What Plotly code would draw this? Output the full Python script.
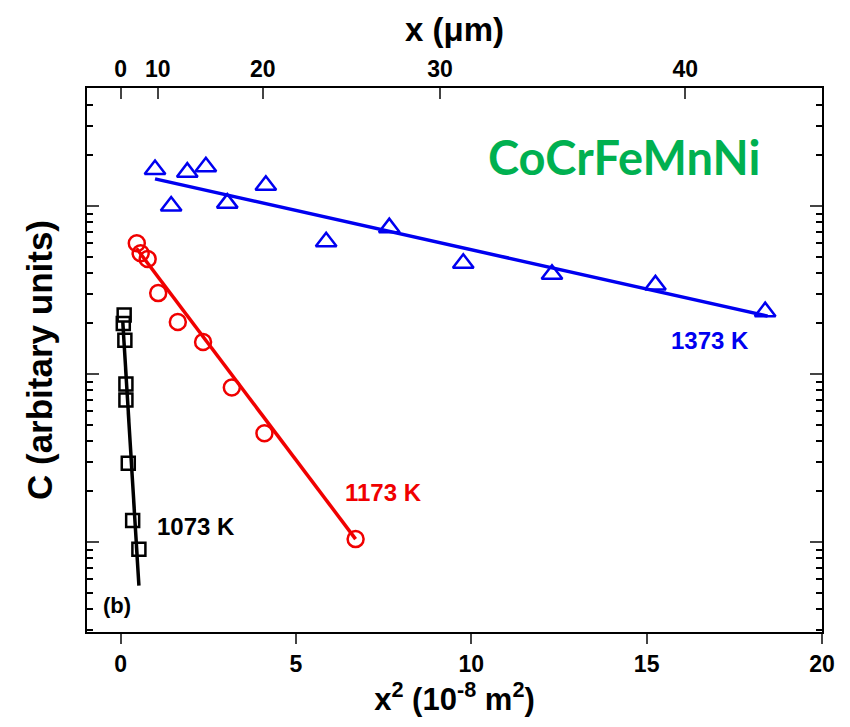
import numpy as np
import plotly.graph_objects as go

# ---- data (x^2 in 1e-8 m^2, C in arbitrary units, log scale) ----
x2_1373 = [0.98, 1.44, 1.90, 2.43, 3.04, 4.14, 5.86, 7.66, 9.77, 12.30, 15.25, 18.38]
c_1373 = [1.65, 1.00, 1.59, 1.71, 1.04, 1.33, 0.613, 0.743, 0.456, 0.392, 0.339, 0.235]
fit_x_1373 = [0.98, 18.45]
fit_c_1373 = [1.45, 0.221]

x2_1173 = [0.46, 0.57, 0.77, 1.07, 1.63, 2.35, 3.17, 4.10, 6.70]
c_1173 = [0.600, 0.523, 0.484, 0.303, 0.204, 0.155, 0.0831, 0.0444, 0.0104]
fit_x_1173 = [0.45, 6.70]
fit_c_1173 = [0.56, 0.0104]

x2_1073 = [0.10, 0.075, 0.12, 0.15, 0.15, 0.217, 0.342, 0.52]
c_1073 = [0.2245, 0.200, 0.159, 0.0872, 0.070, 0.0294, 0.0134, 0.00905]
fit_x_1073 = [0.06, 0.52]
fit_c_1073 = [0.205, 0.0055]

# top axis: x in micrometres, positioned at x^2 on bottom axis
top_x_um = [0, 10, 20, 30, 40]
top_pos = [0, 1.06, 4.05, 9.11, 16.1]

bottom_ticks = [0, 5, 10, 15, 20]

BLUE = "#0000F0"
RED = "#F00000"
BLACK = "#000000"
GREEN = "#00B050"
FONT = "Liberation Sans, Arial"

fig = go.Figure()

def add_series(x, y, fx, fy, color, symbol, size):
    fig.add_trace(go.Scatter(x=fx, y=fy, mode="lines",
                             line=dict(color=color, width=3.5), showlegend=False))
    fig.add_trace(go.Scatter(x=x, y=y, mode="markers",
                             marker=dict(symbol=symbol, size=size, color=color,
                                         line=dict(color=color, width=2.5)),
                             showlegend=False))

add_series(x2_1373, c_1373, fit_x_1373, fit_c_1373, BLUE, "triangle-up-open", 18)
add_series(x2_1173, c_1173, fit_x_1173, fit_c_1173, RED, "circle-open", 16)
add_series(x2_1073, c_1073, fit_x_1073, fit_c_1073, BLACK, "square-open", 13)

# invisible trace for the top axis
fig.add_trace(go.Scatter(x=[top_pos[0]], y=[1], xaxis="x2", mode="markers",
                         marker=dict(opacity=0), showlegend=False, hoverinfo="skip"))

xr = [-0.96, 20.0]
tickfont = dict(family=FONT, size=23, color="black", weight="bold")
fig.update_layout(
    width=850, height=727,
    margin=dict(l=87, r=28, t=88, b=95),
    plot_bgcolor="white", paper_bgcolor="white",
    font=dict(family=FONT, color="black", size=21),
    xaxis=dict(range=xr, tickvals=bottom_ticks, ticks="outside", ticklen=10, tickwidth=1.5,
               showline=True, linecolor="black", linewidth=2, showgrid=False, zeroline=False,
               automargin=False, tickfont=tickfont,
               title=dict(text="x<sup>2</sup> (10<sup>-8</sup> m<sup>2</sup>)",
                          font=dict(family=FONT, size=31, color="black", weight="bold"),
                          standoff=4)),
    xaxis2=dict(range=xr, overlaying="x", side="top", tickvals=top_pos,
                ticktext=[str(v) for v in top_x_um], ticks="inside", ticklen=11, tickwidth=1.5,
                showline=True, linecolor="black", linewidth=2, showgrid=False, zeroline=False,
                automargin=False, tickfont=tickfont,
                title=dict(text="x (μm)",
                           font=dict(family=FONT, size=33, color="black", weight="bold"),
                           standoff=4)),
    yaxis=dict(type="log", range=[np.log10(0.00291), np.log10(5.04)],
               tickvals=[0.01, 0.1, 1], ticks="inside", ticklen=12, tickwidth=2,
               showticklabels=False, showline=True, linecolor="black", linewidth=2,
               mirror="ticks", showgrid=False, zeroline=False, automargin=False,
               minor=dict(ticks="inside", ticklen=6, tickwidth=2, tickcolor="black",
                          dtick="D1", showgrid=False),
               title=dict(text="C (arbitary units)", font=dict(family=FONT, size=35,
                          color="black", weight="bold"), standoff=22)),
)

def ly(v):
    return float(np.log10(v))

fig.add_annotation(text="<b>CoCrFeMnNi</b>", x=0.73, y=0.873, xref="paper", yref="paper",
                   showarrow=False, font=dict(family="Lato, Open Sans", size=47, color=GREEN),
                   xanchor="center", yanchor="middle")
fig.add_annotation(text="1373 K", x=16.8, y=ly(0.158), showarrow=False,
                   font=dict(family=FONT, size=24, color=BLUE, weight="bold"))
fig.add_annotation(text="1173 K", x=7.49, y=ly(0.0197), showarrow=False,
                   font=dict(family=FONT, size=24, color=RED, weight="bold"))
fig.add_annotation(text="1073 K", x=2.15, y=ly(0.0123), showarrow=False,
                   font=dict(family=FONT, size=24, color=BLACK, weight="bold"))
fig.add_annotation(text="(b)", x=-0.1, y=ly(0.0042), showarrow=False,
                   font=dict(family=FONT, size=22, color=BLACK, weight="bold"))

fig.write_html("out.html", config={"displayModeBar": False},
               post_script="document.body.style.margin='0px';")
